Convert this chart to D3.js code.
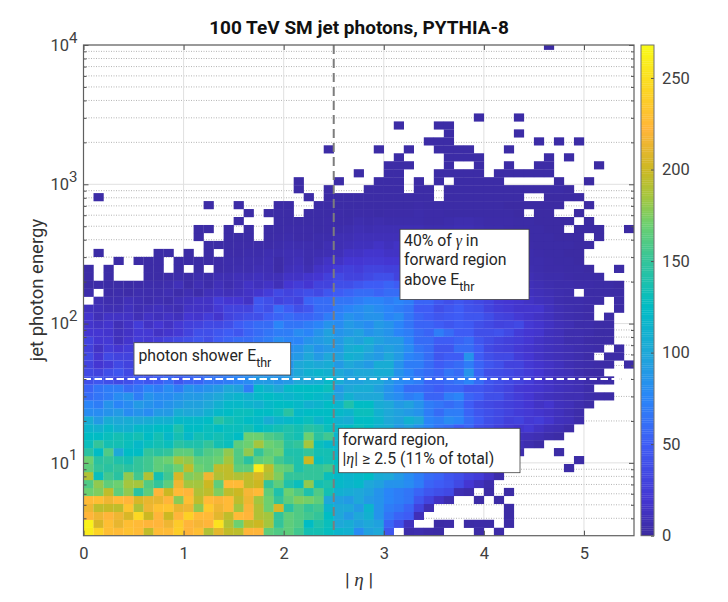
<!DOCTYPE html>
<html>
<head>
<meta charset="utf-8">
<script src="https://cdn.jsdelivr.net/npm/d3@7"></script>
<style>
	html, body { margin: 0; padding: 0; background: #fff; }
	text { font-family: Roboto, sans-serif; }
	.tick text { font-size: 16.5px; fill: #404040; }
	.math { font-family: "Liberation Serif", serif; font-style: italic; }
</style>
</head>
<body>
<div id="wrapper"></div>
<script>

var etaTicks = [0, 1, 2, 3, 4, 5];
var energyTicks = [10, 100, 1000, 10000];
var energyMinorTicks = [
	4, 5, 6, 7, 8, 9,
	20, 30, 40, 50, 60, 70, 80, 90,
	200, 300, 400, 500, 600, 700, 800, 900,
	2000, 3000, 4000, 5000, 6000, 7000, 8000, 9000
];
var colorTicks = [0, 50, 100, 150, 200, 250];
var colorStops = [0, 20, 50, 75, 100, 125, 150, 170, 185, 200, 222, 240, 268];
var colorValues = ["#3b2a9e", "#4436d2", "#3e5cf5", "#2a85f8", "#1ea8d8", "#00bcc4", "#33c49a", "#6cd070", "#a4c63e", "#ccb822", "#ffb53a", "#fdd026", "#f9fb15"];

var etaBinWidth = 0.1;
var energyMin = 3;
var energyBinLog = 0.0572;
var photonThreshold = 40;
var forwardEta = 2.5;

// counts per bin, one row per energy bin from the bottom, one column per eta bin. 0 is an empty bin
var counts = [
	[258,242,228,226,230,226,196,226,226,238, 222,228,190,210,196,194,222,222,165,160, 165,155,135,135,128,115,110,80,95,100, 45,0,5,6,4,3,0,0,0,3, 0,4],
	[262,205,228,212,228,225,222,222,215,236, 222,218,222,252,190,170,195,200,185,150, 165,160,125,140,130,100,105,95,100,95, 55,40,12,0,0,3,4,0,3,4, 3,0,3],
	[222,215,222,215,205,245,200,222,200,222, 240,225,225,210,195,225,222,190,185,150, 165,160,155,150,125,100,90,100,110,85, 65,55,50,10,0,0,0,0,0,0, 0,0,3],
	[215,195,198,195,232,190,215,230,232,212, 215,180,235,215,225,185,220,190,170,205, 145,160,150,155,115,100,100,90,115,85, 70,65,55,30,8,0,0,0,0,0, 0,0,3],
	[225,228,215,225,222,205,212,212,222,178, 228,195,225,220,225,195,215,185,170,150, 165,175,172,165,100,95,90,100,90,85, 75,70,65,45,30,15,6,0,0,3, 0,3],
	[170,175,195,165,180,145,165,222,200,225, 222,190,195,175,195,200,218,225,165,140, 170,160,140,160,135,110,105,100,95,85, 75,70,65,55,45,40,35,8,5,0, 3,0,3],
	[160,180,165,170,185,185,160,150,165,215, 185,185,200,165,225,225,195,200,150,165, 140,130,180,135,140,120,115,120,100,95, 85,85,80,70,55,50,45,35,20,12, 5],
	[190,130,155,145,180,155,190,135,155,205, 175,180,215,190,195,190,195,205,190,175, 150,150,150,150,130,120,115,120,125,105, 100,90,80,70,60,55,45,40,30,25, 15,5],
	[165,150,145,150,145,150,155,165,160,170, 195,170,165,195,195,165,165,258,195,170, 165,140,150,150,155,130,120,115,110,110, 100,90,80,75,60,55,50,45,35,25, 20,12,0,0,0,0,0,0,3],
	[170,145,150,140,135,150,155,165,170,185, 180,165,165,170,185,160,145,165,170,155, 145,140,200,130,135,125,120,115,110,105, 95,90,80,70,60,55,50,45,35,30, 22,15,8,0,0,0,0,0,0,3],
	[145,125,160,100,125,125,150,145,150,165, 165,150,160,165,180,160,180,150,165,170, 140,140,150,135,135,115,120,120,110,105, 100,90,85,75,65,60,50,45,40,30, 25,18,12,6,0,0,0,3],
	[130,150,135,135,130,120,130,135,130,145, 140,140,150,135,130,165,170,185,170,165, 145,150,185,130,120,115,125,130,120,110, 100,90,85,80,70,60,55,50,40,35, 28,20,15,10,6,3],
	[125,125,130,135,130,135,125,135,120,135, 120,135,130,135,130,125,170,170,160,155, 140,135,170,145,155,115,125,120,115,105, 95,95,85,80,70,60,55,50,45,35, 30,25,18,12,10,8,5,3],
	[115,110,120,110,110,120,120,125,125,140, 125,125,130,125,130,130,135,125,130,135, 140,135,145,140,130,120,125,130,125,110, 105,90,95,85,75,65,60,50,55,40, 35,28,22,18,22,15,10,8,4],
	[105,90,105,100,105,100,105,110,110,120, 120,120,125,145,135,130,125,120,105,115, 120,125,130,115,125,110,105,125,125,115, 100,95,110,100,75,70,80,75,60,50, 40,35,28,30,22,25,18,12,10,5],
	[80,80,85,90,80,85,80,90,90,105, 100,100,110,120,125,130,130,125,125,130, 145,120,125,125,125,120,115,130,130,110, 100,95,90,85,70,60,70,70,55,45, 40,35,30,25,22,18,15,12,8,5],
	[75,70,85,75,80,90,85,80,85,90, 95,95,100,110,120,120,115,110,120,125, 125,120,110,115,125,115,140,125,125,105, 100,90,95,85,70,65,60,65,50,40, 35,32,28,25,20,15,18,12,10,6, 3],
	[60,65,70,80,85,70,85,80,80,85, 90,90,95,100,110,115,110,120,125,120, 115,120,125,120,115,95,110,100,100,100, 85,80,70,75,55,55,70,75,55,50, 40,40,30,25,20,15,12,10,8,8, 5,4,3],
	[55,65,70,70,60,65,75,70,80,70, 85,80,85,90,100,95,70,120,110,100, 120,125,125,125,130,90,100,105,105,95, 85,75,60,60,55,50,55,55,45,45, 40,35,30,22,20,18,15,12,10,8, 5],
	[40,45,40,35,40,50,45,50,60,45, 55,55,65,65,70,75,80,90,90,85, 90,100,100,105,120,105,95,95,100,100, 90,80,75,70,55,55,60,65,75,60, 45,40,35,30,25,18,15,12,10,8, 5,4,3],
	[35,30,40,45,35,40,40,50,45,55, 55,60,60,65,70,75,80,85,80,85, 90,100,110,115,110,100,95,100,100,105, 105,85,75,65,60,55,65,60,85,55, 40,38,35,30,25,20,15,12,10,6, 4,3],
	[30,20,25,35,30,40,40,45,45,50, 50,55,60,65,65,70,75,75,80,85, 85,100,105,100,105,90,100,95,90,105, 105,85,70,70,60,50,55,60,70,55, 45,40,30,30,22,18,15,12,8,6, 5,4,3,0,3],
	[35,20,35,30,30,35,40,40,45,50, 50,55,60,60,65,65,70,75,80,80, 85,90,100,90,100,95,110,105,95,90, 100,90,75,70,60,45,50,50,85,50, 40,35,35,25,20,15,12,10,8,6, 4,0,3,3],
	[28,15,25,20,25,30,30,35,40,45, 45,50,55,60,60,60,65,70,75,75, 80,85,95,85,90,90,105,110,100,90, 95,90,80,65,60,45,45,60,60,50, 35,30,28,22,18,15,12,10,8,6, 5,4,0,3],
	[30,20,22,12,18,25,22,25,30,35, 40,45,40,50,55,60,60,65,70,80, 75,75,85,90,95,90,100,95,105,95, 90,90,75,60,60,50,50,55,60,45, 38,32,28,25,20,15,12,10,6,6, 4,3,3],
	[20,20,18,12,15,22,22,15,18,22, 30,40,40,45,50,45,55,60,65,70, 70,80,75,85,95,85,90,95,85,90, 85,75,70,60,55,70,60,50,50,40, 40,42,35,25,20,18,12,10,6,6, 5,3,3],
	[18,15,18,10,15,25,15,20,15,22, 28,30,35,35,40,50,55,60,60,75, 65,65,70,75,85,80,90,85,80,90, 85,75,65,55,55,50,45,50,48,40, 35,30,32,35,22,18,14,10,8,5, 5,3,3],
	[18,10,15,15,15,10,15,12,15,12, 20,18,25,18,30,35,40,40,50,55, 60,55,55,60,70,75,85,80,85,85, 75,80,65,55,50,45,48,50,45,45, 38,30,28,22,18,15,12,8,6,5, 4,0,3],
	[12,10,8,8,12,8,10,12,10,8, 15,15,15,22,30,30,30,45,40,60, 50,40,45,60,60,70,75,80,85,80, 75,70,65,50,50,40,45,50,42,40, 30,25,22,18,18,18,12,8,6,5, 4,0,0,3],
	[0,8,6,6,10,8,6,8,6,10, 12,15,15,25,20,20,15,45,40,30, 35,30,55,60,60,65,65,70,75,75, 70,75,70,55,55,45,40,45,40,35, 30,22,20,18,15,12,10,6,5,5, 4,3,0,3],
	[5,0,4,5,4,6,6,6,8,5, 8,5,10,12,10,12,15,18,25,35, 30,35,40,35,45,50,55,60,60,55, 60,60,55,45,45,40,35,35,38,30, 25,20,18,15,12,10,8,6,5,0, 3,3,3,3],
	[3,4,3,3,3,4,5,5,6,10, 4,8,5,10,7,10,15,12,15,10, 20,25,20,30,30,40,40,45,50,50, 55,50,55,40,40,35,35,30,30,25, 22,18,15,12,10,8,6,5,5,4, 4,3,3,2],
	[3,0,3,0,0,0,3,3,4,5, 4,6,5,8,8,10,10,12,10,10, 15,15,18,20,28,35,30,30,35,40, 40,30,40,35,30,30,25,25,22,20, 18,15,12,10,8,6,5,5,4,3, 3,3],
	[3,0,3,0,0,0,3,3,0,3, 0,3,0,4,5,6,6,8,8,4, 10,12,8,15,18,25,28,25,30,30, 28,28,30,25,22,22,20,18,18,15, 12,10,10,8,6,5,4,4,3,3, 2,0,0,3],
	[0,0,0,3,0,3,3,3,0,3, 3,3,3,4,5,5,6,6,8,4, 8,10,6,10,15,15,20,20,22,22, 20,20,22,20,18,18,15,15,15,12, 10,8,8,7,5,5,4,3,3,2],
	[0,3,0,0,0,0,0,3,3,0, 3,0,3,0,4,4,5,5,7,6, 8,8,6,7,8,10,15,15,18,18, 15,15,18,18,15,12,12,14,12,10, 8,8,6,6,5,4,3,3,2,2],
	[0,0,0,0,0,0,0,0,0,0, 0,0,3,3,3,4,4,4,4,5, 7,6,6,5,8,8,10,12,12,15, 12,15,12,12,10,10,10,10,10,8, 7,6,6,5,4,3,3,3,3,2, 2],
	[0,0,0,0,0,0,0,0,0,0, 0,3,0,0,3,3,3,0,3,4, 5,4,4,5,5,8,8,10,10,10, 10,10,10,10,8,8,8,8,8,7, 6,6,5,4,3,3,3,2,2,2, 0,2],
	[0,0,0,0,0,0,0,0,0,0, 0,3,3,0,3,0,3,0,3,3, 4,4,4,3,4,5,6,8,7,8, 8,8,8,8,6,6,7,8,8,6, 5,5,4,3,3,3,2,2,0,2, 2,2,0,0,2],
	[0,0,0,0,0,0,0,0,0,0, 0,0,0,0,0,3,0,0,0,3, 3,3,3,3,4,4,4,6,5,6, 5,5,5,5,4,4,5,6,6,5, 4,4,4,3,3,2,2,2,2,0, 2],
	[0,0,0,0,0,0,0,0,0,0, 0,0,0,0,0,0,3,0,3,3, 3,0,3,3,3,4,3,4,4,3, 4,4,4,5,4,4,3,3,3,3, 3,3,3,2,0,2,2,0,0,2],
	[0,0,0,0,0,0,0,0,0,0, 0,0,3,0,0,3,0,0,0,3, 3,0,0,3,3,3,3,3,3,3, 3,3,3,4,3,3,3,3,3,3, 3,3,2,2,2,2,2,2,0,0, 2],
	[0,3,0,0,0,0,0,0,0,0, 0,0,0,0,0,0,0,0,0,0, 0,0,3,0,3,3,3,3,3,3, 3,3,3,3,3,0,3,3,3,3, 3,3,3,3,0,0,2,2,2,2],
	[0,0,0,0,0,0,0,0,0,0, 0,0,0,0,0,0,0,0,0,0, 0,3,0,0,3,0,0,0,3,3, 3,3,0,3,3,0,3,3,3,3, 3,3,3,3,3,3,3,3,2],
	[0,0,0,0,0,0,0,0,0,0, 0,0,0,0,0,0,0,0,0,0, 0,3,0,0,0,3,0,0,0,3, 3,3,0,3,0,3,0,3,3,3, 3,3,0,0,0,0,0,2,0,0, 2],
	[0,0,0,0,0,0,0,0,0,0, 0,0,0,0,0,0,0,0,0,0, 0,0,0,0,0,0,0,3,0,0, 3,3,0,0,0,3,3,3,3,3, 0,3,3,3,3,3,3],
	[0,0,0,0,0,0,0,0,0,0, 0,0,0,0,0,0,0,0,0,0, 0,0,0,0,0,0,0,0,0,0, 3,3,3,0,0,0,3,0,0,3, 0,0,3,0,0,3,3,0,0,0, 0,2],
	[0,0,0,0,0,0,0,0,0,0, 0,0,0,0,0,0,0,0,0,0, 0,0,0,0,0,0,0,0,0,0, 0,3,0,0,0,0,3,3,3,3, 0,0,0,0,0,0,3,0,3],
	[0,0,0,0,0,0,0,0,0,0, 0,0,0,0,0,0,0,0,0,0, 0,0,0,0,3,0,0,0,0,3, 0,0,3,0,0,3,3,3,3,0, 0,0,3],
	[0,0,0,0,0,0,0,0,0,0, 0,0,0,0,0,0,0,0,0,0, 0,0,0,0,0,0,0,0,0,0, 0,0,0,0,3,3,3,0,0,0, 0,0,0,0,0,3,0,3,0,3],
	[0,0,0,0,0,0,0,0,0,0, 0,0,0,0,0,0,0,0,0,0, 0,0,0,0,0,0,0,0,0,0, 0,0,0,0,0,0,3,0,0,0, 0,0,0,3],
	[0,0,0,0,0,0,0,0,0,0, 0,0,0,0,0,0,0,0,0,0, 0,0,0,0,0,0,0,0,0,0, 0,3,0,0,0,3,3],
	[0,0,0,0,0,0,0,0,0,0, 0,0,0,0,0,0,0,0,0,0, 0,0,0,0,0,0,0,0,0,0, 0,0,0,0,0,0,0,0,0,3, 0,0,0,3],
	[], [], [], [], [], [], [], [],
	[0,0,0,0,0,0,0,0,0,0, 0,0,0,0,0,0,0,0,0,0, 0,0,0,0,0,0,0,0,0,0, 0,0,0,0,0,0,0,0,0,0, 0,0,0,0,0,0,2]
];

var plot = { left: 83.5, right: 634, top: 45, bottom: 535.7 };
var bar = { left: 641, right: 654 };

var x = d3.scaleLinear().domain([0, 5.5]).range([plot.left, plot.right]);
var y = d3.scaleLog().domain([energyMin, 10000]).range([plot.bottom, plot.top]);
var color = d3.scaleLinear().domain(colorStops).range(colorValues).clamp(true);
var colorY = d3.scaleLinear().domain([0, 268]).range([plot.bottom, plot.top]);

var svg = d3.select("#wrapper").append("svg")
	.attr("width", 728)
	.attr("height", 602)
	.style("display", "block");

svg.append("defs").append("clipPath")
	.attr("id", "plot-clip")
	.append("rect")
	.attr("x", plot.left)
	.attr("y", plot.top)
	.attr("width", plot.right - plot.left)
	.attr("height", plot.bottom - plot.top);

// grid goes under the cells, it only shows through the empty bins
var grid = svg.append("g");

grid.selectAll(".minor")
	.data(energyMinorTicks)
	.enter()
	.append("line")
	.attr("x1", plot.left)
	.attr("x2", plot.right)
	.attr("y1", function(d) { return y(d); })
	.attr("y2", function(d) { return y(d); })
	.attr("stroke", "#b4b4b4")
	.attr("stroke-dasharray", "1,1.5");

grid.selectAll(".major-y")
	.data(energyTicks)
	.enter()
	.append("line")
	.attr("x1", plot.left)
	.attr("x2", plot.right)
	.attr("y1", function(d) { return y(d); })
	.attr("y2", function(d) { return y(d); })
	.attr("stroke", "#e0e0e0");

grid.selectAll(".major-x")
	.data(etaTicks)
	.enter()
	.append("line")
	.attr("x1", function(d) { return x(d); })
	.attr("x2", function(d) { return x(d); })
	.attr("y1", plot.top)
	.attr("y2", plot.bottom)
	.attr("stroke", "#e0e0e0");

var cells = [];
counts.forEach(function(row, r) {
	row.forEach(function(value, c) {
		if (value > 0) {
			cells.push({ row: r, col: c, value: value });
		}
	});
});

function binEdge(r) {
	return energyMin * Math.pow(10, r * energyBinLog);
}

svg.append("g")
	.attr("clip-path", "url(#plot-clip)")
	.selectAll("rect")
	.data(cells)
	.enter()
	.append("rect")
	.attr("x", function(d) { return x(d.col * etaBinWidth); })
	.attr("width", x(etaBinWidth) - x(0) + 0.2)
	.attr("y", function(d) { return y(binEdge(d.row + 1)); })
	.attr("height", function(d) { return y(binEdge(d.row)) - y(binEdge(d.row + 1)) + 0.2; })
	.attr("fill", function(d) { return color(d.value); });

// threshold and forward region lines
svg.append("line")
	.attr("x1", x(forwardEta))
	.attr("x2", x(forwardEta))
	.attr("y1", plot.top)
	.attr("y2", plot.bottom)
	.attr("stroke", "#7d7d7d")
	.attr("stroke-width", 2)
	.attr("stroke-dasharray", "9,5");

svg.append("line")
	.attr("x1", plot.left)
	.attr("x2", plot.right)
	.attr("y1", y(photonThreshold))
	.attr("y2", y(photonThreshold))
	.attr("stroke", "#fff")
	.attr("stroke-width", 2)
	.attr("stroke-dasharray", "7.5,3.5");

// axes, ticks point inward on all four sides
function styleAxis(g) {
	g.select(".domain").remove();
	g.selectAll(".tick line").attr("stroke", "#505050");
}

svg.append("g")
	.attr("transform", "translate(0," + plot.bottom + ")")
	.call(d3.axisBottom(x).tickValues(etaTicks).tickSize(-5).tickPadding(12).tickFormat(d3.format("d")))
	.call(styleAxis);

svg.append("g")
	.attr("transform", "translate(0," + plot.top + ")")
	.call(d3.axisTop(x).tickValues(etaTicks).tickSize(-5).tickFormat(""))
	.call(styleAxis);

var energyLeft = svg.append("g")
	.attr("transform", "translate(" + plot.left + ",0)")
	.call(d3.axisLeft(y).tickValues(energyTicks).tickSize(-5).tickPadding(6).tickFormat(""))
	.call(styleAxis);

energyLeft.selectAll(".tick text").each(function(d) {
	var label = d3.select(this);
	label.append("tspan").text("10");
	label.append("tspan")
		.attr("dy", "-0.55em")
		.style("font-size", "15px")
		.text(Math.round(Math.log10(d)));
});

svg.append("g")
	.attr("transform", "translate(" + plot.right + ",0)")
	.call(d3.axisRight(y).tickValues(energyTicks).tickSize(-5).tickFormat(""))
	.call(styleAxis);

svg.append("g")
	.attr("transform", "translate(" + plot.left + ",0)")
	.call(d3.axisLeft(y).tickValues(energyMinorTicks).tickSize(-3).tickFormat(""))
	.call(styleAxis);

svg.append("g")
	.attr("transform", "translate(" + plot.right + ",0)")
	.call(d3.axisRight(y).tickValues(energyMinorTicks).tickSize(-3).tickFormat(""))
	.call(styleAxis);

svg.append("rect")
	.attr("x", plot.left)
	.attr("y", plot.top)
	.attr("width", plot.right - plot.left)
	.attr("height", plot.bottom - plot.top)
	.attr("fill", "none")
	.attr("stroke", "#606060")
	.attr("stroke-width", 1.2);

// colorbar
svg.append("g")
	.selectAll("rect")
	.data(d3.range(0, 268))
	.enter()
	.append("rect")
	.attr("x", bar.left)
	.attr("width", bar.right - bar.left)
	.attr("y", function(d) { return colorY(d + 1); })
	.attr("height", function(d) { return colorY(d) - colorY(d + 1) + 0.3; })
	.attr("fill", function(d) { return color(d + 0.5); });

svg.append("g")
	.attr("transform", "translate(" + bar.right + ",0)")
	.call(d3.axisRight(colorY).tickValues(colorTicks).tickSize(-3).tickPadding(8).tickFormat(d3.format("d")))
	.call(styleAxis);

svg.append("rect")
	.attr("x", bar.left)
	.attr("y", plot.top)
	.attr("width", bar.right - bar.left)
	.attr("height", plot.bottom - plot.top)
	.attr("fill", "none")
	.attr("stroke", "#707070");

// title and axis labels
svg.append("text")
	.attr("x", 359)
	.attr("y", 34)
	.attr("text-anchor", "middle")
	.style("font-size", "19px")
	.style("font-weight", "bold")
	.attr("fill", "#111")
	.text("100 TeV SM jet photons, PYTHIA-8");

svg.append("text")
	.attr("transform", "translate(43,290) rotate(-90)")
	.attr("text-anchor", "middle")
	.style("font-size", "18.5px")
	.attr("fill", "#333")
	.text("jet photon energy");

var etaLabel = svg.append("text")
	.attr("x", 359)
	.attr("y", 586)
	.attr("text-anchor", "middle")
	.style("font-size", "19px")
	.attr("fill", "#333");
etaLabel.append("tspan").text("| ");
etaLabel.append("tspan").attr("class", "math").text("η");
etaLabel.append("tspan").text(" |");

// annotation boxes
function addBox(left, top, right, bottom) {
	svg.append("rect")
		.attr("x", left)
		.attr("y", top)
		.attr("width", right - left)
		.attr("height", bottom - top)
		.attr("fill", "#fff")
		.attr("stroke", "#404040")
		.attr("stroke-width", 0.8);
}

function addLine(px, py) {
	return svg.append("text")
		.attr("x", px)
		.attr("y", py)
		.style("font-size", "15.8px")
		.attr("fill", "#262626");
}

function addThr(line) {
	line.append("tspan").text("E");
	line.append("tspan").attr("dy", 6).style("font-size", "12.5px").text("thr");
}

addBox(134, 342.7, 290.7, 375);
var showerLine = addLine(138.5, 360.7);
showerLine.append("tspan").text("photon shower ");
addThr(showerLine);

addBox(400, 229.3, 529, 299.5);
var fractionLine = addLine(404, 246);
fractionLine.append("tspan").text("40% of ");
fractionLine.append("tspan").attr("class", "math").text("γ");
fractionLine.append("tspan").text(" in");
addLine(404, 265).text("forward region");
var aboveLine = addLine(404, 284.7);
aboveLine.append("tspan").text("above ");
addThr(aboveLine);

addBox(338.7, 428.3, 520, 472.7);
addLine(342.5, 445).text("forward region,");
var etaLine = addLine(342.5, 464.3);
etaLine.append("tspan").text("|");
etaLine.append("tspan").attr("class", "math").text("η");
etaLine.append("tspan").text("| ≥ 2.5 (11% of total)");

</script>
</body>
</html>
